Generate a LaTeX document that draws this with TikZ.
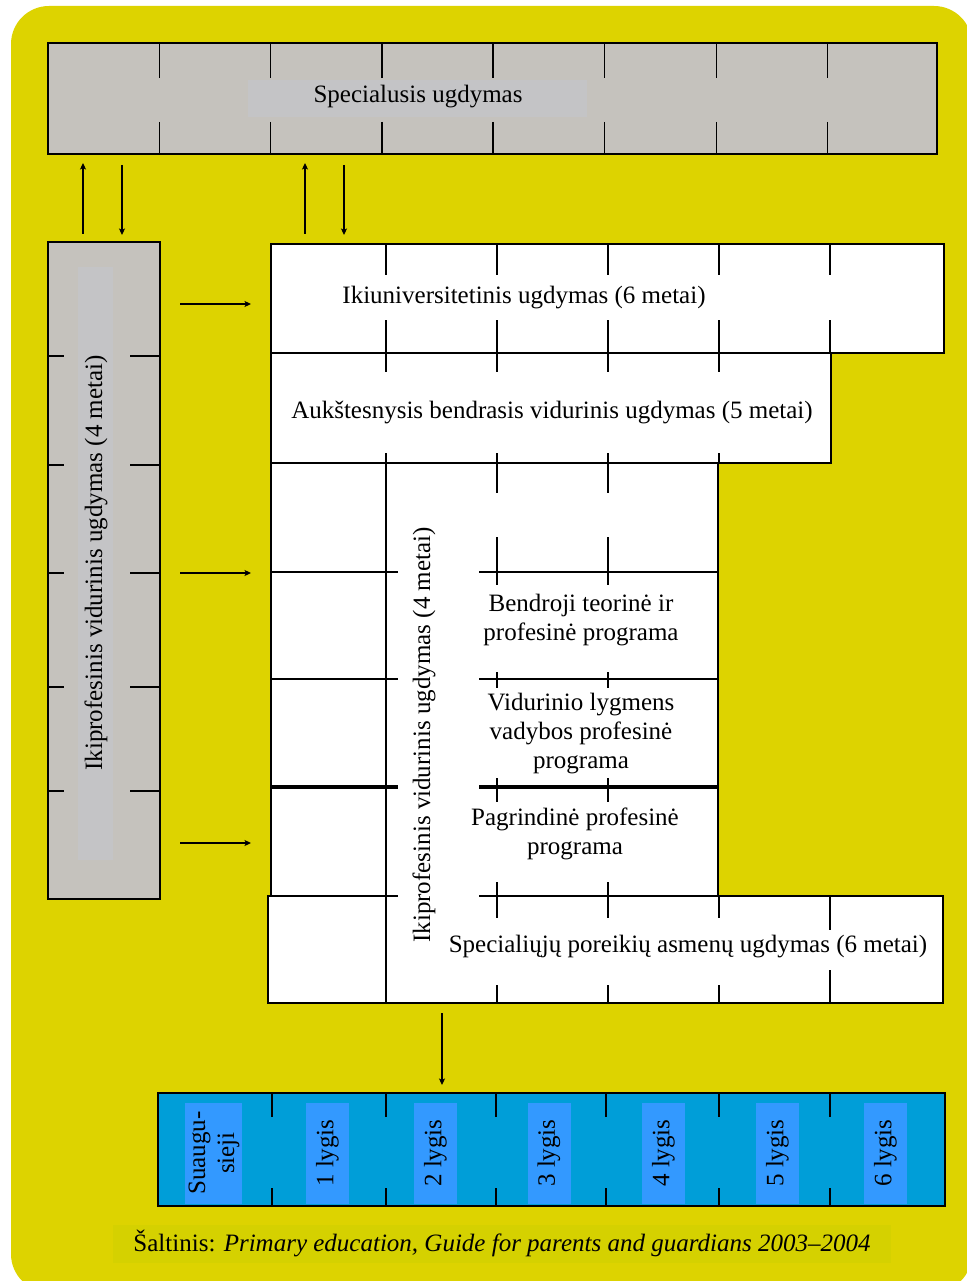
\documentclass[tikz,border=0pt]{standalone}
\usepackage{fontspec}
\setmainfont{Liberation Serif}
\usetikzlibrary{arrows.meta}
\definecolor{ybg}{RGB}{221,211,0}
\definecolor{capbg}{RGB}{213,209,0}
\definecolor{boxgray}{RGB}{197,194,189}
\definecolor{lblgray}{RGB}{196,196,198}
\definecolor{bluebox}{RGB}{0,158,216}
\definecolor{bluestrip}{RGB}{51,153,255}
\begin{document}
\begin{tikzpicture}[x=1pt,y=-1pt,
  outl/.style={draw=black,line width=1.8pt},
  tickln/.style={draw=black,line width=1.5pt},
  thickln/.style={draw=black,line width=3.2pt},
  arr/.style={draw=black,line width=1.6pt,-{Stealth[length=6.5pt,width=6pt,inset=1.5pt]}},
  txt/.style={font=\fontsize{25}{29}\selectfont,inner sep=0pt,align=center},
  graybox/.style={outl,fill=boxgray,inner sep=0pt},
  bluerect/.style={outl,fill=bluebox,inner sep=0pt},
  strip/.style={fill=bluestrip,inner sep=0pt,minimum height=101pt},
]
\useasboundingbox (0,0) rectangle (966,1281);
% background
\fill[ybg,rounded corners=38pt] (11,6) rectangle (972,1292);

% ---------- top box: Specialusis ugdymas
\node[graybox,minimum width=889pt,minimum height=111pt] (spec) at (492.5,98.5) {};
\foreach \xx in {159.5,270.5,382,493,604.5,716.5,827.5}{
  \draw[tickln] (\xx,43) -- (\xx,78);
  \draw[tickln] (\xx,122) -- (\xx,154);
}
\node[fill=lblgray,inner sep=0pt,minimum width=339pt,minimum height=37pt] (speclbl) at (417.5,98.5) {};
\node[txt] (spectxt) at (418,96.5) {Specialusis ugdymas};

% ---------- left box
\node[graybox,minimum width=112pt,minimum height=657pt] (leftbox) at (104,570.5) {};
\foreach \yy in {356,465,573,687,791}{
  \draw[tickln] (48,\yy) -- (64,\yy);
  \draw[tickln] (130,\yy) -- (160,\yy);
}
\node[fill=lblgray,inner sep=0pt,minimum width=35pt,minimum height=593pt] (leftstrip) at (95.5,563.5) {};
\node[txt,rotate=90] (lefttxt) at (96,563) {Ikiprofesinis vidurinis ugdymas (4 metai)};

% ---------- main white structure
\draw[outl,fill=white] (271,244) -- (944,244) -- (944,353) -- (831,353) -- (831,463)
  -- (718,463) -- (718,896) -- (943,896) -- (943,1003) -- (268,1003) -- (268,896)
  -- (271,896) -- cycle;
\draw[tickln] (271,353) -- (944,353);
\draw[tickln] (271,463) -- (831,463);
% columns rows 1-2
\foreach \xx in {386,497,608,719}{
  \draw[tickln] (\xx,244) -- (\xx,275);
  \draw[tickln] (\xx,320) -- (\xx,372);
  \draw[tickln] (\xx,453) -- (\xx,463);
}
\draw[tickln] (830,244) -- (830,275);
\draw[tickln] (830,320) -- (830,353);
\draw[tickln] (386,463) -- (386,1003);
% middle block ticks
\foreach \xx in {497,608}{
  \draw[tickln] (\xx,463) -- (\xx,493);
  \draw[tickln] (\xx,537) -- (\xx,585);
  \draw[tickln] (\xx,672) -- (\xx,688);
  \draw[tickln] (\xx,778) -- (\xx,802);
  \draw[tickln] (\xx,882) -- (\xx,918);
  \draw[tickln] (\xx,985) -- (\xx,1003);
}
\draw[tickln] (719,896) -- (719,918);
\draw[tickln] (719,985) -- (719,1003);
\draw[tickln] (830,896) -- (830,930);
\draw[tickln] (830,970) -- (830,1003);
% horizontal lines in middle block
\foreach \yy in {572,679}{
  \draw[tickln] (271,\yy) -- (398,\yy);
  \draw[tickln] (479,\yy) -- (718,\yy);
}
\draw[thickln] (271,787) -- (398,787);
\draw[thickln] (479,787) -- (718,787);
\draw[tickln] (268,896) -- (398,896);
\draw[tickln] (479,896) -- (718,896);

% texts in main
\node[txt] (ikiuni) at (524,298) {Ikiuniversitetinis ugdymas (6 metai)};
\node[txt] (auk) at (552,412) {Aukštesnysis bendrasis vidurinis ugdymas (5 metai)};
\node[txt,rotate=90] (ikiprof) at (424,735) {Ikiprofesinis vidurinis ugdymas (4 metai)};
\node[txt] (bendr) at (581,620) {Bendroji teorinė ir\\profesinė programa};
\node[txt] (vid) at (581,734) {Vidurinio lygmens\\vadybos profesinė\\programa};
\node[txt] (pagr) at (575,834) {Pagrindinė profesinė\\programa};
\node[txt] (spp) at (688,947) {Specialiųjų poreikių asmenų ugdymas (6 metai)};

% ---------- arrows
\coordinate (u1a) at (83,234);  \coordinate (u1b) at (83,163);
\coordinate (d1a) at (122,165); \coordinate (d1b) at (122,235);
\coordinate (u2a) at (305,234); \coordinate (u2b) at (305,163);
\coordinate (d2a) at (344,165); \coordinate (d2b) at (344,235);
\draw[arr] (u1a) -- (u1b);
\draw[arr] (d1a) -- (d1b);
\draw[arr] (u2a) -- (u2b);
\draw[arr] (d2a) -- (d2b);
\coordinate (r1a) at (180,304); \coordinate (r1b) at (251,304);
\coordinate (r2a) at (180,573); \coordinate (r2b) at (251,573);
\coordinate (r3a) at (180,843); \coordinate (r3b) at (251,843);
\draw[arr] (r1a) -- (r1b);
\draw[arr] (r2a) -- (r2b);
\draw[arr] (r3a) -- (r3b);
\coordinate (dna) at (442,1013); \coordinate (dnb) at (442,1085);
\draw[arr] (dna) -- (dnb);

% ---------- blue box
\node[bluerect,minimum width=787pt,minimum height=113pt] (levels) at (551.5,1149.5) {};
\foreach \xx in {272,386,496,606,719,830}{
  \draw[tickln] (\xx,1093) -- (\xx,1117);
  \draw[tickln] (\xx,1188) -- (\xx,1206);
}
\node[strip,minimum width=57pt] (s0) at (213.5,1153.5) {};
\node[strip,minimum width=43pt] (s1) at (327.5,1153.5) {};
\node[strip,minimum width=43pt] (s2) at (435.5,1153.5) {};
\node[strip,minimum width=43pt] (s3) at (549,1153.5) {};
\node[strip,minimum width=43pt] (s4) at (663.5,1153.5) {};
\node[strip,minimum width=43pt] (s5) at (777.5,1153.5) {};
\node[strip,minimum width=43pt] (s6) at (885.5,1153.5) {};
\node[txt,rotate=90] (t0) at (214,1153) {Suaugu-\\sieji};
\node[txt,rotate=90] (t1) at (327.5,1153) {1 lygis};
\node[txt,rotate=90] (t2) at (435.5,1153) {2 lygis};
\node[txt,rotate=90] (t3) at (549,1153) {3 lygis};
\node[txt,rotate=90] (t4) at (663.5,1153) {4 lygis};
\node[txt,rotate=90] (t5) at (777.5,1153) {5 lygis};
\node[txt,rotate=90] (t6) at (885.5,1153) {6 lygis};

% ---------- caption
\node[fill=capbg,inner sep=0pt,minimum width=778pt,minimum height=38pt] (capbox) at (502,1244) {};
\node[txt] (cap) at (502,1243) {Šaltinis: \textit{Primary education, Guide for parents and guardians 2003–2004}};
\end{tikzpicture}
\end{document}
